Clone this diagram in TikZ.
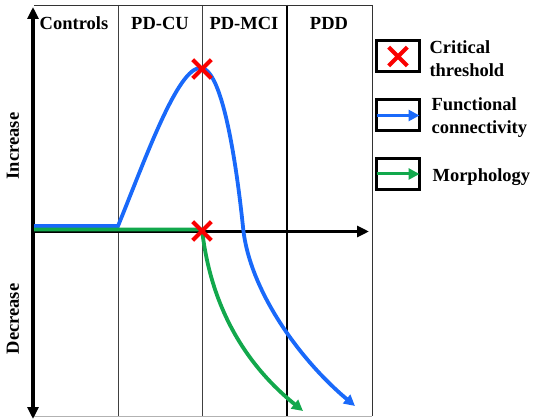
\documentclass[tikz,border=0pt]{standalone}
\usepackage{fontspec}
\setmainfont{Liberation Serif}
\usetikzlibrary{arrows.meta,positioning,shapes.misc}
\definecolor{fcblue}{RGB}{25,105,250}
\definecolor{mgreen}{RGB}{18,168,76}
\definecolor{xred}{RGB}{250,0,0}
\newcommand{\stageline}[2]
{
	\draw[#2] (#1, 5) -- (#1, 416)
}

\begin{document}
\begin{tikzpicture}[x=1pt, y=-1pt,
			stage/.style={font=\fontsize{18.5}{23}\selectfont\bfseries},
			axis/.style={line width=3.2pt,
				-{Triangle[length=12pt,width=11pt]}},
			curve/.style={line width=3.8pt,
				-{Triangle[length=11pt,width=11pt]}},
			thresh/.style={shape=cross out,
				draw=xred,
				line width=4.2pt,
				minimum size=14.5pt,
				inner sep=0pt},
			legbox/.style={shape=rectangle,
				draw=black,
				line width=3pt,
				minimum width=43pt,
				minimum height=31pt},
			legtext/.style={stage, align=left, anchor=west}]
			
			\useasboundingbox (0,0) rectangle (535,419);
			
			% stage columns
			\stageline{118}{black!75, line width=0.7pt};
			\stageline{202}{black!75, line width=0.7pt};
			\stageline{287}{black, line width=1.5pt};
			\stageline{372}{black!80, line width=0.8pt};
			\draw[black!80, line width=0.8pt] (34, 5) -- (372, 5);
			\draw[black!30, line width=0.8pt] (34, 416) -- (372, 416);
			
			\node[stage] at (74, 23) (controls){Controls};
			\node[stage] at (160, 23) (pdcu){PD-CU};
			\node[stage] at (244, 23) (pdmci){PD-MCI};
			\node[stage] at (329, 23) (pdd){PDD};
			
			% axes
			\coordinate (top) at (33, 7);
			\coordinate (bottom) at (33, 419);
			\coordinate (origin) at (33, 231.5);
			\coordinate (xend) at (369, 231.5);
			\draw[axis, {Triangle[length=12pt,width=11pt]}-{Triangle[length=12pt,width=11pt]}] (bottom) -- (top);
			\draw[axis] (origin) -- (xend);
			
			\node[stage, rotate=90] at (13, 146) (incr){Increase};
			\node[stage, rotate=90] at (13, 319) (decr){Decrease};
			
			% functional connectivity
			\coordinate (bstart) at (34, 226);
			\coordinate (brise) at (118, 226);
			\coordinate (bpeak) at (201, 68);
			\coordinate (bzero) at (243, 227);
			\coordinate (bend) at (355, 406);
			\draw[curve, fcblue] (bstart) -- (brise)
				.. controls (145, 160) and (178, 66) .. (bpeak)
				.. controls (222, 69) and (236, 160) .. (bzero)
				.. controls (249, 290) and (300, 360) .. (bend);
			
			% morphology
			\coordinate (gstart) at (34, 229.5);
			\coordinate (gdrop) at (202, 229.5);
			\coordinate (gend) at (303, 411);
			\draw[curve, mgreen] (gstart) -- (gdrop)
				.. controls (210, 300) and (240, 360) .. (gend);
			
			\node[thresh] at (202, 69) (peak){};
			\node[thresh] at (202, 231) (onset){};
			
			% legend
			\node[legbox] at (398, 56.5) (keyX){};
			\node[legbox] at (398, 115.5) (keyFC){};
			\node[legbox] at (398, 174) (keyM){};
			\node[thresh] at (keyX.center) (keyXmark){};
			\draw[curve, fcblue, line width=3pt] ([xshift=1.5pt]keyFC.west) -- ([xshift=-1.5pt]keyFC.east);
			\draw[curve, mgreen, line width=3pt] ([xshift=1.5pt]keyM.west) -- ([xshift=-1.5pt]keyM.east);
			
			\node[legtext] at (426, 59) (critical){Critical\\threshold};
			\node[legtext] at (428, 118) (func){Functional\\connectivity};
			\node[legtext] at (429, 177) (morph){Morphology};
		\end{tikzpicture}
\end{document}
